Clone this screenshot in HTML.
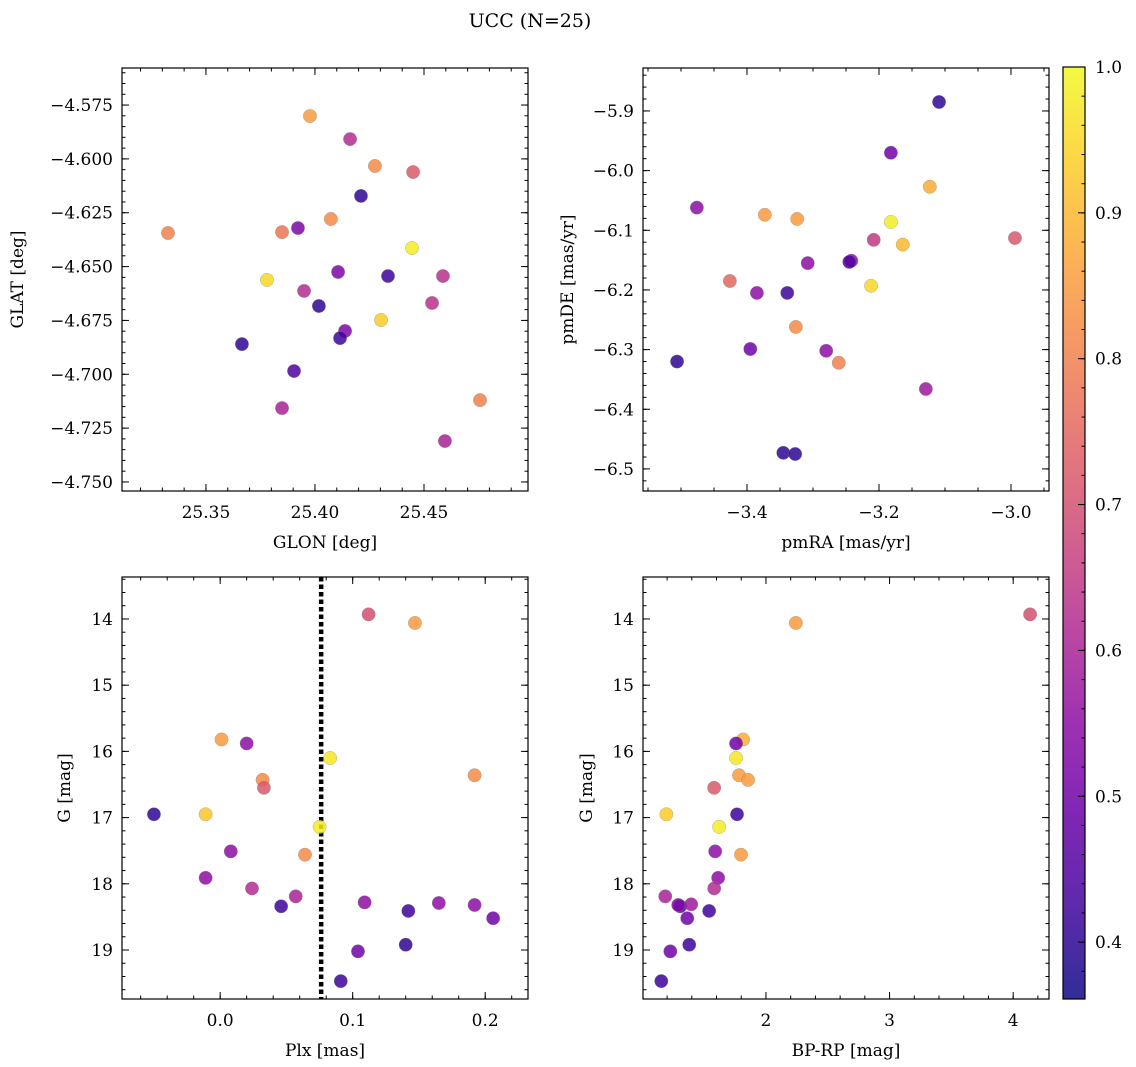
<!DOCTYPE html>
<html><head><meta charset="utf-8"><style>
html,body{margin:0;padding:0;background:#fff;}
svg{display:block;font-family:"DejaVu Serif","Liberation Serif",serif;}
</style></head><body>
<svg id="fig" width="1136" height="1067" viewBox="0 0 1136 1067" xmlns="http://www.w3.org/2000/svg">
<text x="530" y="27" text-anchor="middle" font-size="19">UCC (N=25)</text>
</svg>
<script>
// ---- data ----
const glonVals=[25.3977,25.4161,25.4275,25.4450,25.4211,25.3326,25.3849,25.3922,25.4073,25.4445,25.3780,25.4106,25.4335,25.4587,25.3950,25.4018,25.4537,25.4303,25.4138,25.4115,25.3665,25.3904,25.3849,25.4757,25.4596];
const glatVals=[-4.5801,-4.5908,-4.6033,-4.6061,-4.6172,-4.6344,-4.6340,-4.6321,-4.6279,-4.6414,-4.6562,-4.6525,-4.6544,-4.6544,-4.6613,-4.6683,-4.6669,-4.6748,-4.6799,-4.6832,-4.6860,-4.6985,-4.7157,-4.7120,-4.7310];
const probTL=[0.85,0.62,0.82,0.72,0.40,0.80,0.78,0.52,0.82,0.98,0.95,0.52,0.42,0.63,0.62,0.40,0.63,0.93,0.52,0.42,0.40,0.45,0.60,0.80,0.60];

const pmraVals=[-3.109,-3.182,-3.123,-3.476,-3.373,-3.324,-3.182,-3.208,-3.164,-2.994,-3.308,-3.242,-3.245,-3.426,-3.385,-3.339,-3.212,-3.326,-3.506,-3.395,-3.280,-3.261,-3.129,-3.345,-3.327];
const pmdeVals=[-5.885,-5.970,-6.027,-6.062,-6.074,-6.081,-6.086,-6.116,-6.124,-6.113,-6.155,-6.151,-6.153,-6.185,-6.205,-6.205,-6.193,-6.262,-6.320,-6.299,-6.302,-6.322,-6.366,-6.473,-6.475];
const probTR=[0.40,0.50,0.88,0.55,0.85,0.85,0.98,0.65,0.90,0.72,0.55,0.55,0.45,0.75,0.55,0.42,0.95,0.82,0.40,0.50,0.55,0.80,0.58,0.40,0.40];

const plxVals=[0.112,0.147,0.001,0.020,0.083,0.192,0.032,0.033,-0.050,-0.011,0.075,0.008,0.064,-0.011,0.024,0.057,0.046,0.109,0.165,0.142,0.192,0.206,0.140,0.104,0.091];
const gBL=[13.93,14.06,15.82,15.88,16.10,16.36,16.43,16.55,16.95,16.95,17.14,17.51,17.56,17.91,18.07,18.19,18.34,18.28,18.29,18.41,18.32,18.52,18.92,19.02,19.47];
const probBL=[0.70,0.85,0.85,0.55,0.97,0.82,0.82,0.72,0.40,0.92,0.98,0.55,0.82,0.55,0.62,0.60,0.42,0.55,0.55,0.42,0.55,0.50,0.40,0.50,0.42];
const plxLine=0.0762;

const bprpVals=[4.137,2.242,1.815,1.758,1.758,1.782,1.855,1.581,1.766,1.194,1.621,1.589,1.798,1.613,1.581,1.185,1.306,1.395,1.363,1.540,1.226,1.153,1.379,1.290];
const gBR=[13.93,14.06,15.82,15.88,16.10,16.36,16.43,16.55,16.95,16.95,17.14,17.51,17.56,17.91,18.07,18.19,18.34,18.31,18.52,18.41,19.02,19.47,18.92,18.32];
const probBR=[0.70,0.85,0.88,0.50,0.97,0.85,0.85,0.72,0.42,0.93,0.98,0.55,0.85,0.55,0.62,0.60,0.45,0.58,0.50,0.42,0.50,0.42,0.42,0.52];

const cbTicks=[0.4,0.5,0.6,0.7,0.8,0.9,1.0];
const cbMin=0.361, cbMax=1.0;

// ---- colormap (plasma) ----
const plasma=["#0d0887","#41049d","#6a00a8","#8f0da4","#b12a90","#cc4778","#e16462","#f2844b","#fca636","#fcce25","#f0f921"];
function hex(h){return [parseInt(h.substr(1,2),16),parseInt(h.substr(3,2),16),parseInt(h.substr(5,2),16)];}
function cmap(v){let t=(v-cbMin)/(cbMax-cbMin);t=Math.max(0,Math.min(1,t));const s=t*10,i=Math.min(9,Math.floor(s)),f=s-i;const a=hex(plasma[i]),b=hex(plasma[i+1]);return `rgb(${a.map((c,k)=>Math.round(c+(b[k]-c)*f)).join(',')})`;}

const NS="http://www.w3.org/2000/svg";
const svg=document.getElementById('fig');
function el(tag,attrs,parent){const e=document.createElementNS(NS,tag);for(const k in attrs)e.setAttribute(k,attrs[k]);(parent||svg).appendChild(e);return e;}

function fmt(v,d){const s=Math.abs(v).toFixed(d);return (v<-1e-9?'\u2212':'')+s;}
const TF=17, LF=17;

function panel(cfg){
  const g=el('g',{});
  
  
  const {x0,x1,y0,y1,xmin,xmax,ymin,ymax}=cfg;
  const sx=v=>x0+(v-xmin)/(xmax-xmin)*(x1-x0);
  const sy=v=>cfg.invertY? y0+(v-ymin)/(ymax-ymin)*(y1-y0) : y1-(v-ymin)/(ymax-ymin)*(y1-y0);
  const tg=el('g',{stroke:'#000','stroke-width':1},g);
  function ticks(min,max,step){const out=[];const s=Math.ceil(min/step-1e-6);for(let i=s;i*step<=max+1e-9;i++)out.push(i*step);return out;}
  ticks(xmin,xmax,cfg.xminor).forEach(v=>{const x=sx(v);el('line',{x1:x,x2:x,y1:y1,y2:y1-3.5},tg);el('line',{x1:x,x2:x,y1:y0,y2:y0+3.5},tg);});
  ticks(Math.min(ymin,ymax),Math.max(ymin,ymax),cfg.yminor).forEach(v=>{const y=sy(v);el('line',{x1:x0,x2:x0+3.5,y1:y,y2:y},tg);el('line',{x1:x1,x2:x1-3.5,y1:y,y2:y},tg);});
  ticks(xmin,xmax,cfg.xmajor).forEach(v=>{const x=sx(v);el('line',{x1:x,x2:x,y1:y1,y2:y1-7},tg);el('line',{x1:x,x2:x,y1:y0,y2:y0+7},tg);
    const t=el('text',{x:x,y:y1+27,'text-anchor':'middle','font-size':TF},g);t.textContent=fmt(v,cfg.xdec);
    
    });
  ticks(Math.min(ymin,ymax),Math.max(ymin,ymax),cfg.ymajor).forEach(v=>{const y=sy(v);el('line',{x1:x0,x2:x0+7,y1:y,y2:y},tg);el('line',{x1:x1,x2:x1-7,y1:y,y2:y},tg);
    const t=el('text',{x:x0-9,y:y+6,'text-anchor':'end','font-size':TF},g);t.textContent=fmt(v,cfg.ydec);
    
    });
  if(cfg.vline!==undefined){const x=sx(cfg.vline);const l=el('line',{x1:x,x2:x,y1:y0,y2:y1,stroke:'#000','stroke-width':4.5,'stroke-dasharray':'4.5 3'},g);
    
    }
  cfg.xs.forEach((xv,i)=>{const c=el('circle',{cx:sx(xv),cy:sy(cfg.ys[i]),r:6.7,fill:cmap(cfg.cs[i]),'fill-opacity':0.85,stroke:'#888','stroke-width':0.5,'stroke-opacity':0.6},g);
    
    });
  const fr=el('rect',{x:x0,y:y0,width:x1-x0,height:y1-y0,fill:'none',stroke:'#000','stroke-width':1.2},g);
  
  
  const xl=el('text',{x:(x0+x1)/2,y:y1+57,'text-anchor':'middle','font-size':LF},g);xl.textContent=cfg.xlabel;
  
  
  const yl=el('text',{x:0,y:0,'text-anchor':'middle','font-size':LF,transform:`translate(${cfg.ylx},${(y0+y1)/2}) rotate(-90)`},g);yl.textContent=cfg.ylabel;
  
  
}

panel({name:'glon-glat-panel',x0:122,x1:528,y0:68,y1:491,xmin:25.3115,xmax:25.4977,ymin:-4.7542,ymax:-4.5578,
  xmajor:0.05,xminor:0.01,ymajor:0.025,yminor:0.005,xdec:2,ydec:3,xlabel:'GLON [deg]',ylabel:'GLAT [deg]',ylx:23,
  xs:glonVals,ys:glatVals,cs:probTL});
panel({name:'proper-motion-panel',x0:643,x1:1049,y0:68,y1:491,xmin:-3.5576,xmax:-2.9424,ymin:-6.537,ymax:-5.828,
  xmajor:0.2,xminor:0.05,ymajor:0.1,yminor:0.02,xdec:1,ydec:1,xlabel:'pmRA [mas/yr]',ylabel:'pmDE [mas/yr]',ylx:573,
  xs:pmraVals,ys:pmdeVals,cs:probTR});
panel({name:'plx-g-panel',x0:122,x1:528,y0:577,y1:999,xmin:-0.0741,xmax:0.2323,ymin:13.366,ymax:19.74,invertY:true,
  xmajor:0.1,xminor:0.02,ymajor:1,yminor:0.2,xdec:1,ydec:0,xlabel:'Plx [mas]',ylabel:'G [mag]',ylx:70,
  xs:plxVals,ys:gBL,cs:probBL,vline:plxLine});
panel({name:'cmd-panel',x0:643,x1:1049,y0:577,y1:999,xmin:1.005,xmax:4.29,ymin:13.366,ymax:19.74,invertY:true,
  xmajor:1,xminor:0.2,ymajor:1,yminor:0.2,xdec:0,ydec:0,xlabel:'BP-RP [mag]',ylabel:'G [mag]',ylx:592,
  xs:bprpVals,ys:gBR,cs:probBR});

// ---- colorbar ----
(function(){
  const cx0=1063,cx1=1085,cy0=67,cy1=999;
  const cg=el('g',{});
  
  
  const defs=el('defs',{},cg);
  const lg=el('linearGradient',{id:'cbg',x1:0,y1:1,x2:0,y2:0},defs);
  for(let i=0;i<=20;i++){const t=i/20;el('stop',{offset:t,'stop-color':cmap(cbMin+t*(cbMax-cbMin)),'stop-opacity':0.85},lg);}
  el('rect',{x:cx0,y:cy0,width:cx1-cx0,height:cy1-cy0,fill:'url(#cbg)'},cg);
  const sy=v=>cy1-(v-cbMin)/(cbMax-cbMin)*(cy1-cy0);
  for(let v=0.38;v<=1.0001;v+=0.02){const y=sy(v);el('line',{x1:cx1,x2:cx1-3.5,y1:y,y2:y,stroke:'#000','stroke-width':1},cg);}
  cbTicks.forEach(v=>{const y=sy(v);el('line',{x1:cx1,x2:cx1-7,y1:y,y2:y,stroke:'#000','stroke-width':1},cg);
    const t=el('text',{x:cx1+10,y:y+6,'font-size':TF},cg);t.textContent=v.toFixed(1);
    
    });
  el('rect',{x:cx0,y:cy0,width:cx1-cx0,height:cy1-cy0,fill:'none',stroke:'#000','stroke-width':1.2},cg);
})();
</script>
</body></html>
